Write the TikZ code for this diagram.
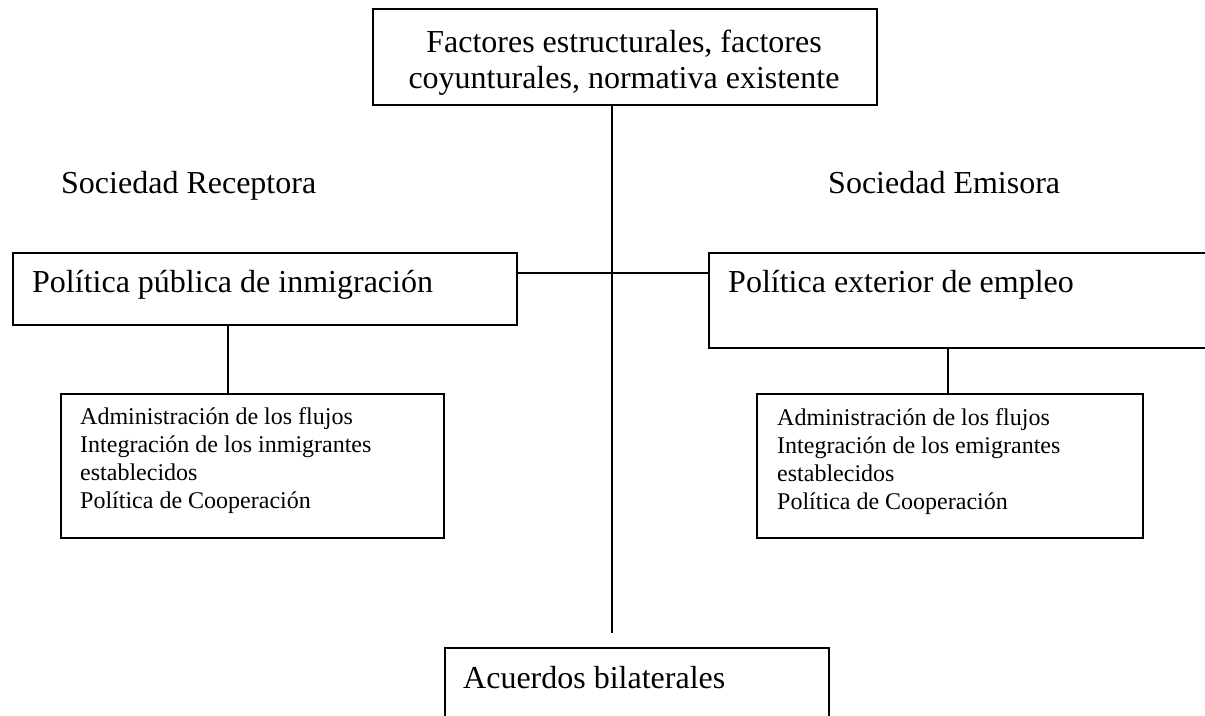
\documentclass[tikz,border=0pt]{standalone}
\usepackage{fontspec}
\setmainfont{Liberation Serif}
\begin{document}
\begin{tikzpicture}[x=1pt,y=-1pt,
  box/.style={draw=black, line width=1.5pt, inner sep=0pt, anchor=north west},
  conn/.style={draw=black, line width=1.5pt},
  bigtxt/.style={inner sep=0pt, anchor=base west, align=left, font=\fontsize{32}{36}\selectfont},
  smalltxt/.style={inner sep=0pt, anchor=base west, align=left, font=\fontsize{24}{28}\selectfont}]
\useasboundingbox (0,0) rectangle (1205,715);
% boxes
\node[box, minimum width=504, minimum height=96] (top) at (372,8) {};
\node[box, minimum width=504, minimum height=72] (lbox) at (12,252) {};
\node[box, minimum width=530, minimum height=95] (rbox) at (708,252) {};
\node[box, minimum width=383, minimum height=144] (lsub) at (60,393) {};
\node[box, minimum width=386, minimum height=144] (rsub) at (756,393) {};
\node[box, minimum width=384, minimum height=110] (bot) at (444,647) {};
% texts (base anchor = baseline of the last line)
\node[inner sep=0pt, anchor=base, align=center, font=\fontsize{32}{36}\selectfont] (toptxt) at (624,88)
  {Factores estructurales, factores\\coyunturales, normativa existente};
\node[bigtxt] (rec) at (61,193) {Sociedad Receptora};
\node[bigtxt] (emi) at (828,193) {Sociedad Emisora};
\node[bigtxt] (ltxt) at (32,292) {Política pública de inmigración};
\node[bigtxt] (rtxt) at (728,292) {Política exterior de empleo};
\node[smalltxt] (lsubtxt) at (80,508) {Administración de los flujos\\Integración de los inmigrantes\\establecidos\\Política de Cooperación};
\node[smalltxt] (rsubtxt) at (777,509) {Administración de los flujos\\Integración de los emigrantes\\establecidos\\Política de Cooperación};
\node[bigtxt] (bottxt) at (463,688) {Acuerdos bilaterales};
% connector coordinates
\coordinate (vend) at (612,633);
\coordinate (hy) at (612,273);
\coordinate (lx) at (228,0);
\coordinate (rx) at (948,0);
% connectors
\draw[conn] (top.south -| vend) -- (vend);
\draw[conn] (lbox.east |- hy) -- (rbox.west |- hy);
\draw[conn] (lbox.south -| lx) -- (lsub.north -| lx);
\draw[conn] (rbox.south -| rx) -- (rsub.north -| rx);
\end{tikzpicture}
\end{document}
